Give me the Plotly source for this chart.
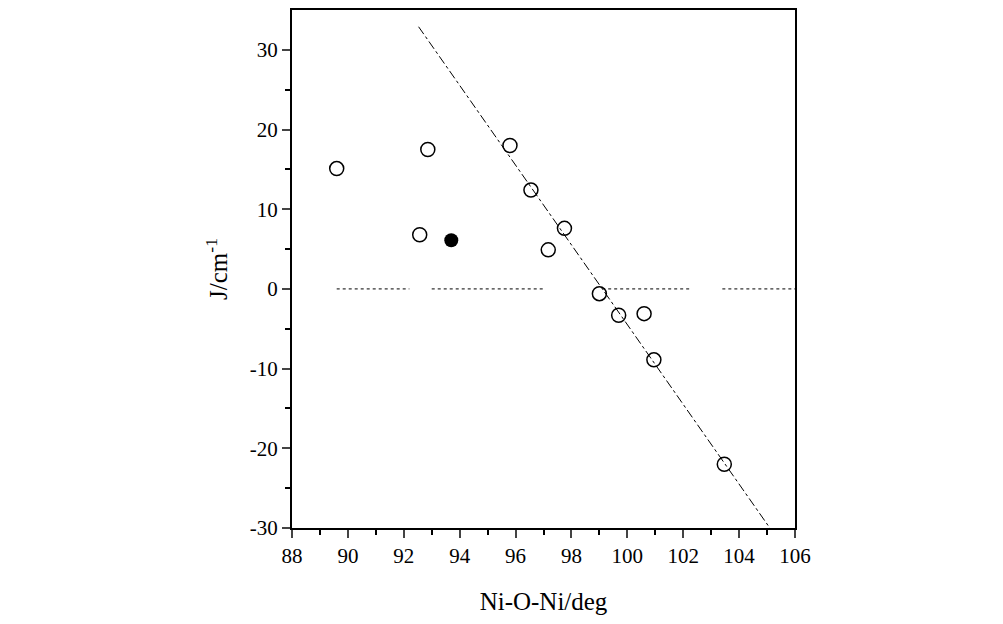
import plotly.graph_objects as go

open_x = [89.6, 92.86, 92.57, 95.8, 96.55, 97.75, 97.17, 99.0, 99.69, 100.6, 100.95, 103.47]
open_y = [15.1, 17.5, 6.8, 18.0, 12.4, 7.6, 4.9, -0.6, -3.3, -3.1, -8.9, -22.0]
filled_x = [93.7]
filled_y = [6.1]
fit_x = [92.53, 105.1]
fit_y = [32.9, -30.0]
zero_x = [89.6, 92.2, None, 93.0, 97.0, None, 99.1, 102.3, None, 103.4, 106.0]
zero_y = [0, 0, None, 0, 0, None, 0, 0, None, 0, 0]
y_ticks = [-30, -20, -10, 0, 10, 20, 30]
y_labels = ["-30", "-20", "-10", "0", "10", "20", "30"]

fig = go.Figure()
fig.add_trace(go.Scatter(x=zero_x, y=zero_y, mode="lines",
                         line=dict(color="black", width=1, dash="dot"), showlegend=False))
fig.add_trace(go.Scatter(x=fit_x, y=fit_y, mode="lines",
                         line=dict(color="black", width=1, dash="dashdot"), showlegend=False))
fig.add_trace(go.Scatter(x=open_x, y=open_y, mode="markers",
                         marker=dict(symbol="circle-open", size=14, color="black", line=dict(width=1.5)),
                         showlegend=False))
fig.add_trace(go.Scatter(x=filled_x, y=filled_y, mode="markers",
                         marker=dict(symbol="circle", size=14, color="black"), showlegend=False))

serif = "Liberation Serif, Times New Roman, DejaVu Serif, serif"
fig.update_layout(
    width=1003, height=624, paper_bgcolor="white", plot_bgcolor="white",
    margin=dict(l=284, r=216, t=0, b=104), font=dict(family=serif, size=21, color="black"),
    xaxis=dict(range=[88, 106], tickmode="linear", tick0=88, dtick=2, ticks="outside",
               ticklen=8, tickwidth=2, showgrid=False, zeroline=False,
               showline=True, linewidth=2, linecolor="black", mirror=True,
               tickfont=dict(family=serif, size=21),
               minor=dict(ticks="outside", dtick=1, ticklen=5, tickwidth=1.5, tickcolor="black"),
               title=dict(text="Ni-O-Ni/deg", font=dict(family=serif, size=25), standoff=25)),
    yaxis=dict(range=[-30, 35], tickmode="array", tickvals=y_ticks, ticktext=y_labels, ticks="outside",
               ticklen=8, tickwidth=2, showgrid=False, zeroline=False,
               showline=True, linewidth=2, linecolor="black", mirror=True,
               tickfont=dict(family=serif, size=21),
               minor=dict(ticks="outside", tickvals=[-25, -15, -5, 5, 15, 25], ticklen=5, tickwidth=1.5, tickcolor="black"),
               title=dict(text="J/cm<sup>-1</sup>", font=dict(family=serif, size=25), standoff=15)),
)
fig.write_html("out.html")
